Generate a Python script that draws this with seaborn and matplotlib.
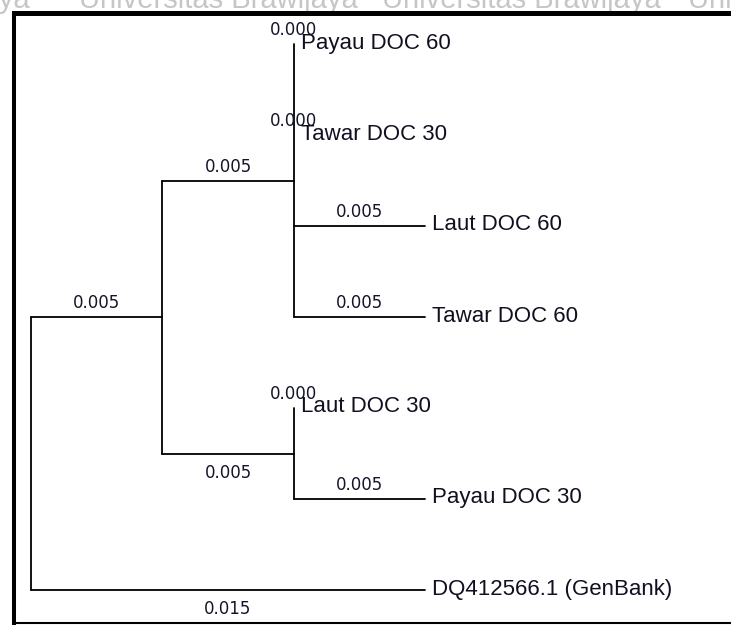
import matplotlib
matplotlib.use("Agg")
import matplotlib.pyplot as plt
import pandas as pd
import seaborn as sns

# tips, top to bottom
tip_names = ["Payau DOC 60", "Tawar DOC 30", "Laut DOC 60", "Tawar DOC 60",
             "Laut DOC 30", "Payau DOC 30", "DQ412566.1 (GenBank)"]
tip_lengths = [0.000, 0.000, 0.005, 0.005, 0.000, 0.005, 0.015]
tip_parents = ["B", "B", "B", "B", "C", "C", "root"]

# internal nodes
node_names = ["A", "B", "C"]
node_lengths = [0.005, 0.005, 0.005]
node_parents = ["root", "A", "A"]

# branches whose length label is written under the line
labels_below = ["C", "DQ412566.1 (GenBank)"]

watermark = "Universitas Brawijaya"


parent = dict(zip(tip_names + node_names, tip_parents + node_parents))
length = dict(zip(tip_names + node_names, tip_lengths + node_lengths))

children = {}
for n, p in parent.items():
    children.setdefault(p, []).append(n)


def depth(n):
    if n == "root":
        return 0.0
    return depth(parent[n]) + length[n]


ypos = {n: i for i, n in enumerate(tip_names)}


def get_y(n):
    if n not in ypos:
        ys = [get_y(c) for c in children[n]]
        ypos[n] = (min(ys) + max(ys)) / 2
    return ypos[n]


get_y("root")

# segments of the rectangular tree
rows = []
k = 0
for n in parent:
    rows.append([k, depth(parent[n]), ypos[n]])
    rows.append([k, depth(n), ypos[n]])
    k += 1
for p, ch in children.items():
    ys = [ypos[c] for c in ch]
    rows.append([k, depth(p), min(ys)])
    rows.append([k, depth(p), max(ys)])
    k += 1
seg = pd.DataFrame(rows, columns=["seg", "x", "y"])

sns.set_theme(style="white")
plt.rcParams["font.family"] = ["Liberation Sans", "DejaVu Sans"]

W, H = 731, 625
fig = plt.figure(figsize=(W / 100, H / 100), dpi=100)

# frame in pixels
L, T, R, B = 13.5, 12.5, 736, 622.5
ax = fig.add_axes([L / W, (H - B) / H, (R - L) / W, (B - T) / H])

# pixel scale of the tree
x0, px_per_unit = 31, 26267
y0, px_per_tip = 44, 91
ax.set_xlim((L - x0) / px_per_unit, (R - x0) / px_per_unit)
ax.set_ylim((B - y0) / px_per_tip, (T - y0) / px_per_tip)

sns.lineplot(data=seg, x="x", y="y", units="seg", estimator=None, sort=False,
             color="black", linewidth=1.3, legend=False, ax=ax)

for n in parent:
    mid = (depth(parent[n]) + depth(n)) / 2
    dy = -24 if n in labels_below else 9
    ax.annotate(f"{length[n]:.3f}", (mid, ypos[n]), xytext=(0, dy),
                textcoords="offset pixels", ha="center", va="baseline",
                fontsize=12, family="DejaVu Sans", color="#15152a",
                annotation_clip=False)

for n in tip_names:
    ax.annotate(n, (depth(n), ypos[n]), xytext=(7, -4.5),
                textcoords="offset pixels", ha="left", va="baseline",
                fontsize=16, family="Liberation Sans", color="#101020",
                annotation_clip=False)

ax.set_xlabel("")
ax.set_ylabel("")
ax.set_xticks([])
ax.set_yticks([])
for side in ["left", "top", "bottom", "right"]:
    ax.spines[side].set_color("black")
ax.spines["left"].set_linewidth(2.9)
ax.spines["top"].set_linewidth(3.6)
ax.spines["bottom"].set_linewidth(1.5)
ax.spines["right"].set_visible(False)

# watermark peeking above the frame
fig.text(30 / W, 1 - 8 / H, "jaya", fontsize=21, color="#c6c6c6",
         ha="right", va="baseline", zorder=-1, family="Liberation Sans")
for xw in [79, 382, 688]:
    fig.text(xw / W, 1 - 8 / H, watermark, fontsize=21, color="#c6c6c6",
             ha="left", va="baseline", zorder=-1, family="Liberation Sans")

fig.savefig("out.png", dpi=100)
